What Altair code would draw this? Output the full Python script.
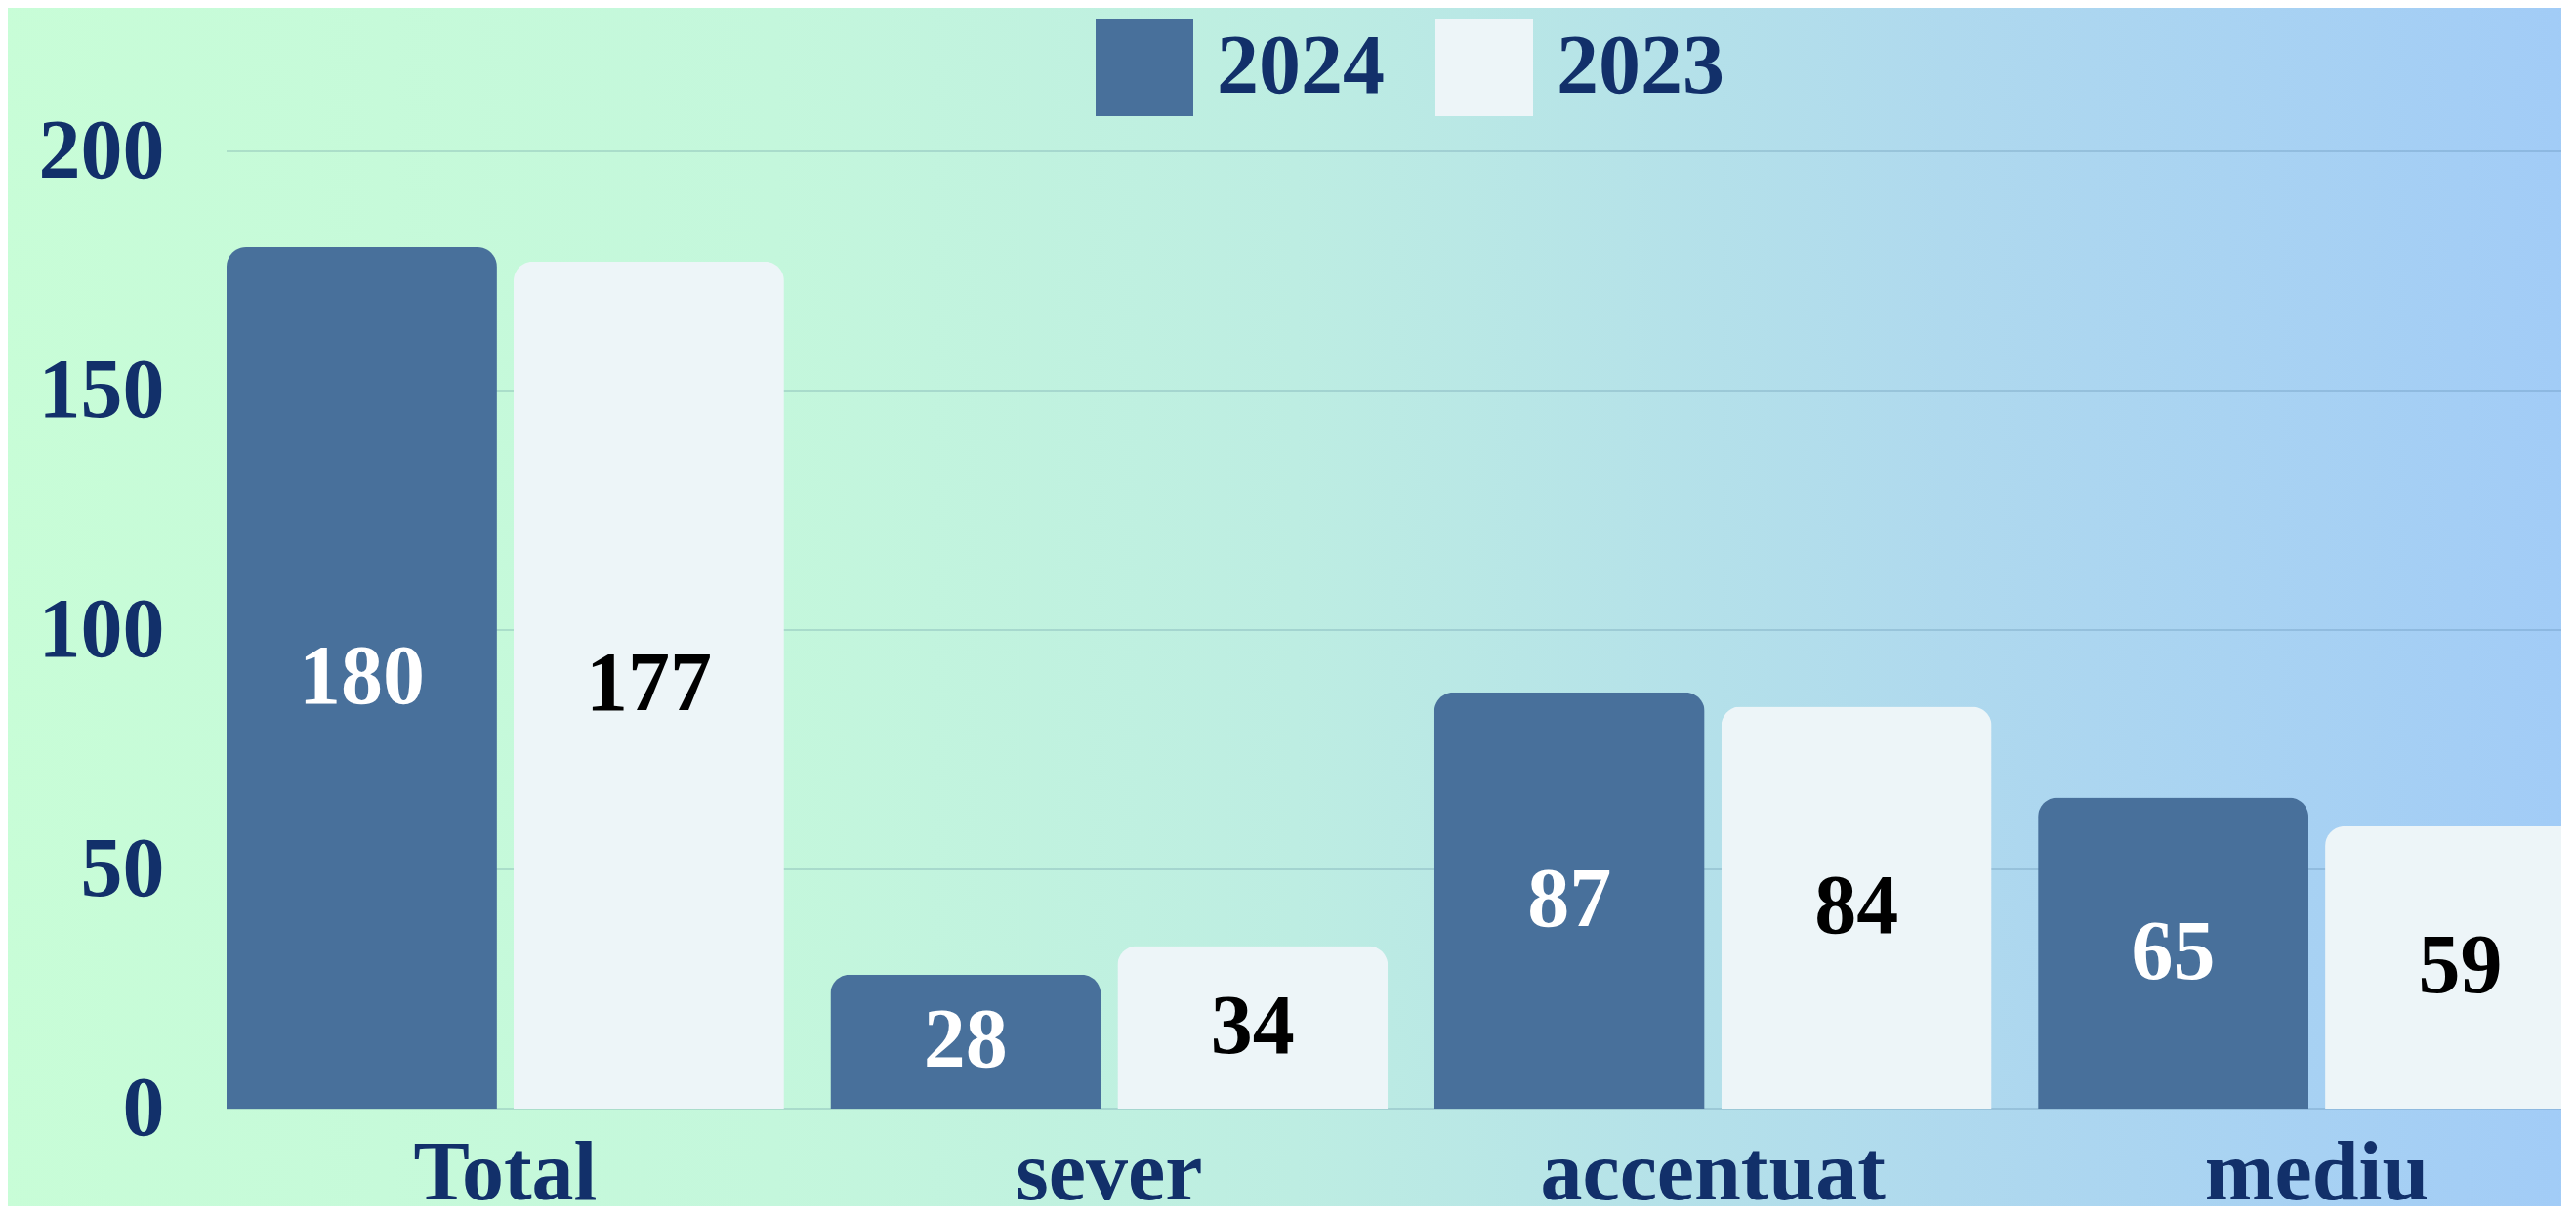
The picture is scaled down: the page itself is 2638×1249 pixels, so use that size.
import altair as alt
import pandas as pd

categories = ["Total", "sever", "accentuat", "mediu"]
years = ["2024", "2023"]
values_2024 = [180, 28, 87, 65]
values_2023 = [177, 34, 84, 59]
y_ticks = [0, 50, 100, 150, 200]

rows = []
for c, a, b in zip(categories, values_2024, values_2023):
    rows.append({"cat": c, "year": "2024", "value": a})
    rows.append({"cat": c, "year": "2023", "value": b})
df = pd.DataFrame(rows)

W, H = 2391, 980
NAVY = "#12306a"
FONT = "Liberation Serif"
FS = 86

grad = alt.LinearGradient(
    gradient="linear",
    stops=[
        alt.GradientStop(color="#c8fdd7", offset=0),
        alt.GradientStop(color="#c4f7dc", offset=0.3),
        alt.GradientStop(color="#bdede2", offset=0.5),
        alt.GradientStop(color="#afd9ee", offset=0.75),
        alt.GradientStop(color="#a1cbf7", offset=1),
    ],
    x1=0, x2=1, y1=0, y2=0,
)

bg = alt.Chart(alt.Data(values=[{"k": 1}])).mark_rect(color=grad).encode(
    x=alt.value(-240), x2=alt.value(W + 40), y=alt.value(-170), y2=alt.value(H + 140)
)

yscale = alt.Scale(domain=[0, 200], nice=False)

axis_common = dict(
    grid=False,
    ticks=False,
    tickSize=0,
    domain=False,
    labelFont=FONT,
    labelFontSize=FS,
    labelFontWeight="bold",
    labelColor=NAVY,
    labelLimit=800,
    zindex=2,
)
yaxis = alt.Axis(values=y_ticks, title=None, labelPadding=64, **axis_common)
xaxis = alt.Axis(title=None, labelAngle=0, labelPadding=24, **axis_common)

grid = alt.Chart(pd.DataFrame({"t": y_ticks})).mark_rule(
    color="#1e5078", strokeOpacity=0.16, strokeWidth=2
).encode(
    y=alt.Y("t:Q", scale=yscale, axis=yaxis),
    x=alt.value(0),
    x2=alt.value(W),
)

xenc = alt.X(
    "cat:N",
    sort=categories,
    scale=alt.Scale(range=[0, 2426], paddingInner=0.0768, paddingOuter=0),
    axis=xaxis,
)
xoff = alt.XOffset("year:N", sort=years, scale=alt.Scale(paddingInner=0.058))

base = alt.Chart(df)

bars = base.mark_bar(cornerRadiusTopLeft=20, cornerRadiusTopRight=20).encode(
    x=xenc,
    xOffset=xoff,
    y=alt.Y("value:Q", scale=yscale, axis=yaxis),
    color=alt.Color(
        "year:N",
        scale=alt.Scale(domain=years, range=["#48709b", "#edf5f8"]),
        legend=alt.Legend(
            orient="none",
            legendX=890,
            legendY=-136,
            direction="horizontal",
            title=None,
            symbolType="square",
            symbolSize=10000,
            symbolStrokeWidth=0,
            labelFontSize=FS,
            labelFont=FONT,
            labelFontWeight="bold",
            labelColor=NAVY,
            labelLimit=600,
            labelOffset=24,
            columnPadding=52,
            zindex=2,
        ),
    ),
)

labels = base.transform_calculate(mid="datum.value / 2").mark_text(
    font=FONT, fontWeight="bold", fontSize=FS, baseline="middle", align="center"
).encode(
    x=xenc,
    xOffset=xoff,
    y=alt.Y("mid:Q", scale=yscale, axis=yaxis),
    text=alt.Text("value:Q"),
    color=alt.condition("datum.year == '2024'", alt.value("white"), alt.value("black")),
)

chart = (
    alt.layer(bg, grid, bars, labels)
    .properties(
        width=W,
        height=H,
        autosize=alt.AutoSizeParams(type="none"),
        padding={"left": 224, "top": 147, "right": 0, "bottom": 100},
    )
    .configure_view(stroke=None)
    .configure(background="#c8fdd7")
)

chart.save("out.html", embed_options={"renderer": "svg", "actions": False})
